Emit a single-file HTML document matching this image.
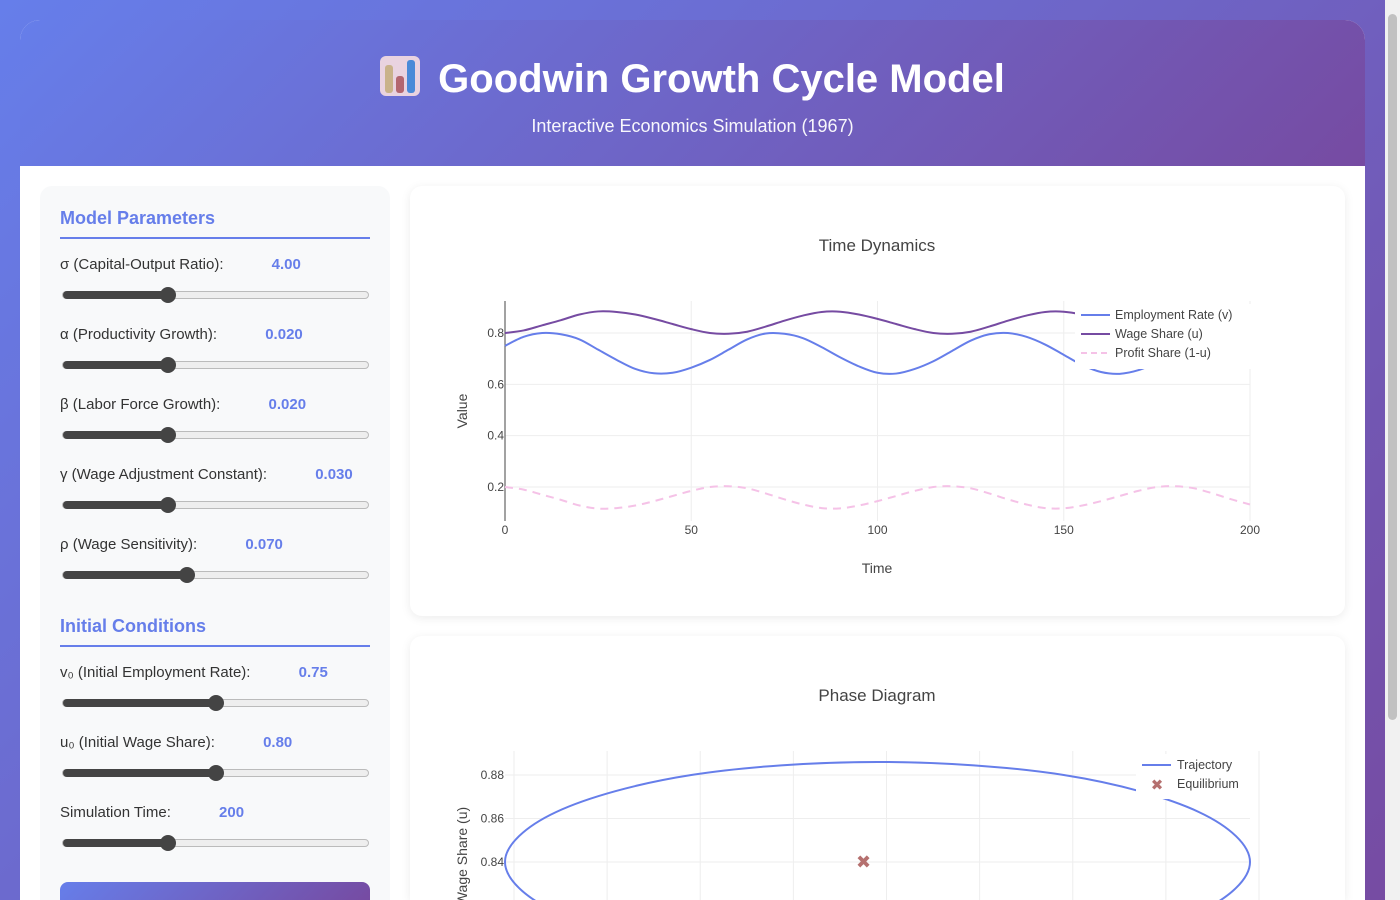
<!DOCTYPE html>
<html><head><meta charset="utf-8">
<style>
*{box-sizing:border-box;margin:0;padding:0}
html,body{width:1400px;height:900px;overflow:hidden}
body{background:linear-gradient(135deg,#667eea,#764ba2);font-family:"Liberation Sans","DejaVu Sans",sans-serif;position:relative}
.container{position:absolute;left:20px;top:20px;width:1345px;height:880px;background:#fff;border-radius:20px 20px 0 0;overflow:hidden}
.header{position:absolute;left:0;top:0;width:1345px;height:146px;background:linear-gradient(135deg,#667eea,#764ba2);color:#fff;text-align:center}
.header h1{position:absolute;top:36px;left:0;width:100%;font-size:40px;font-weight:bold}
.header p{position:absolute;top:96px;left:0;width:100%;font-size:18px;opacity:.95}
.panel{position:absolute;left:20px;top:166px;width:350px;height:714px;background:#f8f9fa;border-radius:12px 12px 0 0;overflow:hidden}
.sec{position:absolute;left:20px;width:310px;color:#667eea;font-size:18px;font-weight:bold;border-bottom:2px solid #667eea;padding-bottom:8px}
.lbl{position:absolute;left:20px;font-size:15px;color:#333}
.lbl b{color:#667eea;margin-left:44px}
.track{position:absolute;left:22px;width:307px;height:8px;border-radius:4px;background:#eee;border:1px solid #bbb}
.fill{position:absolute;left:0;top:-1px;height:8px;border-radius:4px;background:#444}
.thumb{position:absolute;top:-5px;width:16px;height:16px;border-radius:50%;background:#444;margin-left:-8px}
.btn{position:absolute;left:20px;top:696px;width:310px;height:18px;border-radius:8px 8px 0 0;background:linear-gradient(135deg,#667eea,#764ba2)}
.card{position:absolute;left:390px;width:935px;background:#fff;border-radius:12px;box-shadow:0 2px 10px rgba(0,0,0,.08);overflow:hidden}
svg{display:block}
svg text{font-family:"Liberation Sans","DejaVu Sans",sans-serif}
</style></head><body>
<div class="container">
 <div class="header">
  <h1><span style="display:inline-block;width:40px;height:40px;vertical-align:-4px;margin-right:18px;background:#e9d3e0;border-radius:6px;position:relative"><span style="position:absolute;left:5px;top:9px;width:8px;height:28px;background:#c9b28a;border-radius:3px"></span><span style="position:absolute;left:16px;top:20px;width:8px;height:17px;background:#b36670;border-radius:3px"></span><span style="position:absolute;left:27px;top:4px;width:8px;height:33px;background:#4a8ad8;border-radius:3px"></span></span>Goodwin Growth Cycle Model</h1>
  <p>Interactive Economics Simulation (1967)</p>
 </div>
 <div class="panel">
  <div class="sec" style="top:22px">Model Parameters</div>
  <div class="lbl" style="top:70px">σ (Capital-Output Ratio): <b>4.00</b></div>
  <div class="track" style="top:105px"><div class="fill" style="width:105px"></div><div class="thumb" style="left:105px"></div></div>
  <div class="lbl" style="top:140px">α (Productivity Growth): <b>0.020</b></div>
  <div class="track" style="top:175px"><div class="fill" style="width:105px"></div><div class="thumb" style="left:105px"></div></div>
  <div class="lbl" style="top:210px">β (Labor Force Growth): <b>0.020</b></div>
  <div class="track" style="top:245px"><div class="fill" style="width:105px"></div><div class="thumb" style="left:105px"></div></div>
  <div class="lbl" style="top:280px">γ (Wage Adjustment Constant): <b>0.030</b></div>
  <div class="track" style="top:315px"><div class="fill" style="width:105px"></div><div class="thumb" style="left:105px"></div></div>
  <div class="lbl" style="top:350px">ρ (Wage Sensitivity): <b>0.070</b></div>
  <div class="track" style="top:385px"><div class="fill" style="width:124px"></div><div class="thumb" style="left:124px"></div></div>
  <div class="sec" style="top:430px">Initial Conditions</div>
  <div class="lbl" style="top:478px">v₀ (Initial Employment Rate): <b>0.75</b></div>
  <div class="track" style="top:513px"><div class="fill" style="width:153px"></div><div class="thumb" style="left:153px"></div></div>
  <div class="lbl" style="top:548px">u₀ (Initial Wage Share): <b>0.80</b></div>
  <div class="track" style="top:583px"><div class="fill" style="width:153px"></div><div class="thumb" style="left:153px"></div></div>
  <div class="lbl" style="top:618px">Simulation Time: <b>200</b></div>
  <div class="track" style="top:653px"><div class="fill" style="width:105px"></div><div class="thumb" style="left:105px"></div></div>
  <div class="btn"></div>
 </div>
 <div class="card" style="top:166px;height:430px">
  <svg id="c1" width="935" height="430"></svg>
 </div>
 <div class="card" style="top:616px;height:264px;border-radius:12px 12px 0 0">
  <svg id="c2" width="935" height="264"></svg>
 </div>
</div>
<div style="position:absolute;left:1385px;top:0;width:15px;height:900px;background:#f1f1f1"><div style="position:absolute;left:3px;top:14px;width:9px;height:706px;background:#c1c1c1;border-radius:5px"></div></div>
<script>
const times=[0,5,10,15,20,25,30,35,40,45,50,55,60,65,70,75,80,85,90,95,100,105,110,115,120,125,130,135,140,145,150,155,160,165,170,175,180,185,190,195,200];
const employment=[.75,.785,.80,.795,.775,.735,.695,.66,.643,.645,.665,.695,.735,.775,.798,.797,.78,.745,.705,.67,.645,.642,.66,.69,.73,.77,.795,.80,.785,.755,.715,.675,.648,.641,.655,.685,.725,.765,.793,.80,.79];
const wageShare=[.80,.81,.83,.85,.872,.884,.882,.872,.855,.835,.815,.80,.797,.805,.825,.848,.868,.882,.883,.872,.855,.835,.815,.80,.797,.805,.825,.848,.868,.882,.883,.872,.855,.835,.815,.80,.797,.805,.825,.848,.868];
const xTicks=[0,50,100,150,200];
const yTicks=[0.2,0.4,0.6,0.8];
const phaseV=[0.800,0.789,0.760,0.720,0.680,0.651,0.640,0.651,0.680,0.720,0.760,0.789];
const phaseU=[0.840,0.863,0.880,0.886,0.880,0.863,0.840,0.817,0.801,0.795,0.801,0.817];
const phaseXTicks=[0.64,0.66,0.68,0.70,0.72,0.74,0.76,0.78,0.80];
const phaseYTicks=[0.84,0.86,0.88];
const equilibrium=[0.717,0.84];
const NS='http://www.w3.org/2000/svg';
function mk(svg,tag,attrs,txt){const e=document.createElementNS(NS,tag);for(const k in attrs)e.setAttribute(k,attrs[k]);if(txt!==undefined)e.textContent=txt;svg.appendChild(e);return e;}
function smooth(pts,closed){const n=pts.length;let d='M'+pts[0][0]+','+pts[0][1];const segs=closed?n:n-1;
for(let i=0;i<segs;i++){const g=k=>closed?pts[(k+n)%n]:pts[Math.max(0,Math.min(n-1,k))];const p0=g(i-1),p1=g(i),p2=g(i+1),p3=g(i+2);
d+=' C'+(p1[0]+(p2[0]-p0[0])/6)+','+(p1[1]+(p2[1]-p0[1])/6)+' '+(p2[0]-(p3[0]-p1[0])/6)+','+(p2[1]-(p3[1]-p1[1])/6)+' '+p2[0]+','+p2[1];}return d+(closed?'Z':'');}
(function(){
const s=document.getElementById('c1');
const X=t=>95+t/200*745, Y=v=>147-(v-0.8)*256.7;
mk(s,'text',{x:467,y:65,'text-anchor':'middle','font-size':17,fill:'#444'},'Time Dynamics');
xTicks.forEach(t=>{const g=mk(s,'line',{x1:X(t),x2:X(t),y1:115,y2:335,stroke:'#eee'});
 const l=mk(s,'text',{x:X(t),y:348,'text-anchor':'middle','font-size':12,fill:'#444'},t);});
yTicks.forEach(v=>{const g=mk(s,'line',{x1:95,x2:840,y1:Y(v),y2:Y(v),stroke:'#eee'});
 const l=mk(s,'text',{x:94,y:Y(v)+4,'text-anchor':'end','font-size':12,fill:'#444'},v);});
mk(s,'line',{x1:95,x2:95,y1:115,y2:335,stroke:'#444'});
const ax=mk(s,'text',{x:467,y:387,'text-anchor':'middle','font-size':14,fill:'#444'},'Time');
const ay=mk(s,'text',{x:57,y:225,'text-anchor':'middle','font-size':14,fill:'#444',transform:'rotate(-90 57 225)'},'Value');
const e=mk(s,'path',{d:smooth(times.map((t,i)=>[X(t),Y(employment[i])])),fill:'none',stroke:'#667eea','stroke-width':2});
const w=mk(s,'path',{d:smooth(times.map((t,i)=>[X(t),Y(wageShare[i])])),fill:'none',stroke:'#764ba2','stroke-width':2});
const p=mk(s,'path',{d:smooth(times.map((t,i)=>[X(t),Y(1-wageShare[i])])),fill:'none',stroke:'#f5c2e7','stroke-width':2,'stroke-dasharray':'8,6'});
mk(s,'rect',{x:665,y:118,width:180,height:65,fill:'#fff'});
[['Employment Rate (v)','#667eea',''],['Wage Share (u)','#764ba2',''],['Profit Share (1-u)','#f5c2e7','6,4']].forEach((L,i)=>{const y=129+i*19;
 mk(s,'line',{x1:671,x2:700,y1:y,y2:y,stroke:L[1],'stroke-width':2,'stroke-dasharray':L[2]});
 const t=mk(s,'text',{x:705,y:y+4,'font-size':12.5,fill:'#444'},L[0]);});
})();
(function(){
const s=document.getElementById('c2');
const X=v=>95+(v-0.64)/0.16*745, Y=u=>226-(u-0.84)*2175;
mk(s,'text',{x:467,y:65,'text-anchor':'middle','font-size':17,fill:'#444'},'Phase Diagram');
phaseXTicks.forEach(v=>{const g=mk(s,'line',{x1:X(v)+9,x2:X(v)+9,y1:115,y2:300,stroke:'#eee'});});
phaseYTicks.forEach(u=>{const g=mk(s,'line',{x1:95,x2:840,y1:Y(u),y2:Y(u),stroke:'#eee'});
 const l=mk(s,'text',{x:94,y:Y(u)+4,'text-anchor':'end','font-size':12,fill:'#444'},u.toFixed(2));});
const ay=mk(s,'text',{x:57,y:220,'text-anchor':'middle','font-size':14,fill:'#444',transform:'rotate(-90 57 220)'},'Wage Share (u)');
const tr=mk(s,'path',{d:smooth(phaseV.map((v,i)=>[X(v),Y(phaseU[i])]),true),fill:'none',stroke:'#667eea','stroke-width':2});
const ex=X(equilibrium[0]),ey=Y(equilibrium[1]);
const eq=mk(s,'text',{x:ex,y:ey+6,'text-anchor':'middle','font-size':18,'font-weight':'bold',fill:'#b5706f'},'✖');
mk(s,'rect',{x:726,y:118,width:120,height:45,fill:'#fff'});
mk(s,'line',{x1:732,x2:761,y1:129,y2:129,stroke:'#667eea','stroke-width':2});
const l1=mk(s,'text',{x:767,y:133,'font-size':12.5,fill:'#444'},'Trajectory');
mk(s,'text',{x:747,y:154,'text-anchor':'middle','font-size':15,'font-weight':'bold',fill:'#b5706f'},'✖');
const l2=mk(s,'text',{x:767,y:152,'font-size':12.5,fill:'#444'},'Equilibrium');
})();
</script>
</body></html>
